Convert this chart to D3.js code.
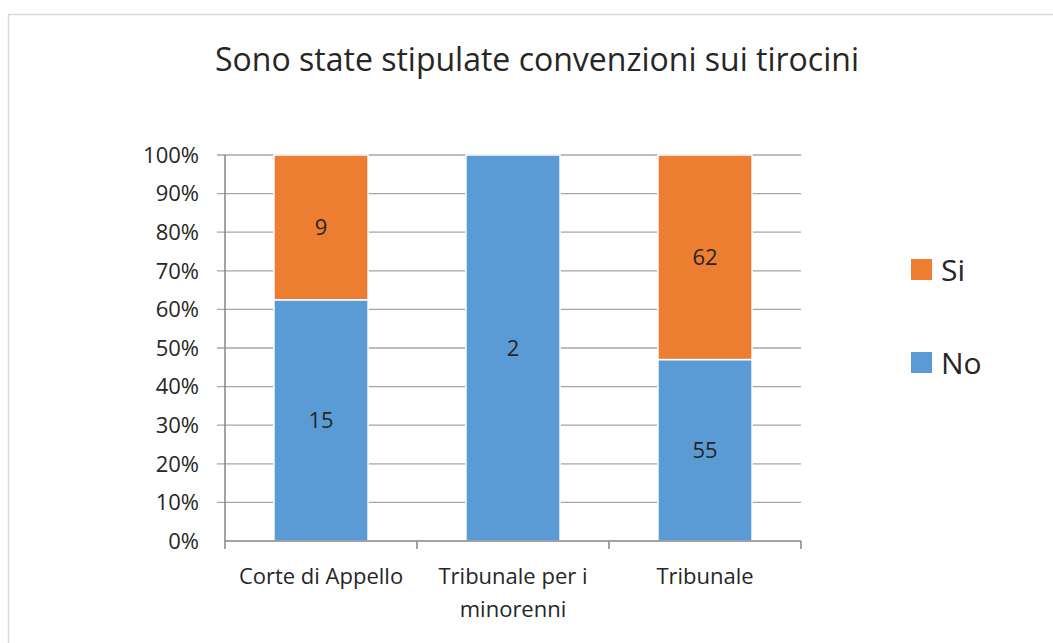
<!DOCTYPE html>
<html lang="it">
    <head>
       <meta charset="utf-8">
       <script src="https://d3js.org/d3.v7.min.js"></script>
       <style>
           body { margin: 0; background: #fff; }
           text { font-family: "Open Sans", "Noto Sans", sans-serif; fill: #262626; }
       </style>
    </head>
    <body>
        <script>
            var width  = 1053;
            var height = 643;

            // data
            var categories = ['Corte di Appello', 'Tribunale per i minorenni', 'Tribunale'];
            var categoryLines = [['Corte di Appello'], ['Tribunale per i', 'minorenni'], ['Tribunale']];
            var no_values = [15, 2, 55];
            var si_values = [9, 0, 62];
            var series = ['No', 'Si'];
            var colours = { 'No': '#5B9BD5', 'Si': '#ED7D31' };
            var y_ticks = [0, 0.1, 0.2, 0.3, 0.4, 0.5, 0.6, 0.7, 0.8, 0.9, 1];

            var plot_left = 225, plot_right = 801, plot_top = 155, plot_bottom = 541;
            var label_size = "22px";

            var svg = d3.select("body")
                        .append("svg")
                        .attr("width", width)
                        .attr("height", height);

            // outer chart border
            svg.append("rect")
               .attr("x", 8.5).attr("y", 14.5)
               .attr("width", width + 10).attr("height", height + 10)
               .attr("fill", "none")
               .attr("stroke", "#d9d9d9")
               .attr("stroke-width", 1.5);

            // title
            svg.append("text")
               .attr("x", 537).attr("y", 71)
               .attr("text-anchor", "middle")
               .style("font-size", "32px")
               .text("Sono state stipulate convenzioni sui tirocini");

            var x = d3.scaleBand()
                      .domain(categories)
                      .range([plot_left, plot_right])
                      .paddingInner(0.51)
                      .paddingOuter(0.255);

            var y = d3.scaleLinear()
                      .domain([0, 1])
                      .range([plot_bottom, plot_top]);

            // grid lines
            svg.append("g")
               .selectAll("line")
               .data(y_ticks.slice(1))
               .enter().append("line")
               .attr("x1", plot_left - 8).attr("x2", plot_right)
               .attr("y1", function(d) { return y(d); })
               .attr("y2", function(d) { return y(d); })
               .attr("stroke", "#a6a6a6")
               .attr("stroke-width", 1.3);

            // y tick labels
            svg.append("g")
               .selectAll("text")
               .data(y_ticks)
               .enter().append("text")
               .attr("x", plot_left - 26)
               .attr("y", function(d) { return y(d); })
               .attr("dy", "0.35em")
               .attr("text-anchor", "end")
               .style("font-size", label_size)
               .text(function(d) { return Math.round(d * 100) + "%"; });

            // stacked data as share of total
            var rows = categories.map(function(c, i) {
                var total = no_values[i] + si_values[i];
                return { cat: c, No: no_values[i] / total, Si: si_values[i] / total, NoN: no_values[i], SiN: si_values[i] };
            });
            var stacked = d3.stack().keys(series)(rows);

            var groups = svg.append("g")
                            .selectAll("g")
                            .data(stacked)
                            .enter().append("g")
                            .attr("fill", function(d) { return colours[d.key]; });

            groups.selectAll("rect")
                  .data(function(d) { return d.map(function(p) { p.key = d.key; return p; }); })
                  .enter().append("rect")
                  .filter(function(d) { return d[1] - d[0] > 0; })
                  .attr("x", function(d) { return x(d.data.cat); })
                  .attr("width", x.bandwidth())
                  .attr("y", function(d) { return y(d[1]); })
                  .attr("height", function(d) { return y(d[0]) - y(d[1]); })
                  .attr("stroke", "#fff")
                  .attr("stroke-width", 1.5);

            // data labels
            groups.selectAll("text")
                  .data(function(d) { return d.filter(function(p) { return p[1] - p[0] > 0; }); })
                  .enter().append("text")
                  .attr("x", function(d) { return x(d.data.cat) + x.bandwidth() / 2; })
                  .attr("y", function(d) { return y((d[0] + d[1]) / 2); })
                  .attr("dy", "0.35em")
                  .attr("text-anchor", "middle")
                  .style("font-size", label_size)
                  .text(function(d) { return d.key == 'No' ? d.data.NoN : d.data.SiN; });

            // x axis line and ticks
            svg.append("line")
               .attr("x1", plot_left).attr("x2", plot_right)
               .attr("y1", plot_bottom).attr("y2", plot_bottom)
               .attr("stroke", "#868686").attr("stroke-width", 1.5);
            svg.append("line")
               .attr("x1", plot_left).attr("x2", plot_left)
               .attr("y1", plot_top).attr("y2", plot_bottom + 8)
               .attr("stroke", "#868686").attr("stroke-width", 1.5);

            var step = (plot_right - plot_left) / categories.length;
            svg.append("g")
               .selectAll("line")
               .data(d3.range(1, categories.length + 1))
               .enter().append("line")
               .attr("x1", function(d) { return plot_left + d * step; })
               .attr("x2", function(d) { return plot_left + d * step; })
               .attr("y1", plot_bottom).attr("y2", plot_bottom + 8)
               .attr("stroke", "#868686").attr("stroke-width", 1.5);

            // category labels
            svg.append("g")
               .selectAll("text")
               .data(categories)
               .enter().append("text")
               .attr("x", function(d) { return x(d) + x.bandwidth() / 2; })
               .attr("y", 584)
               .attr("text-anchor", "middle")
               .style("font-size", label_size)
               .each(function(d, i) {
                   var t = d3.select(this);
                   categoryLines[i].forEach(function(line, j) {
                       t.append("tspan")
                        .attr("x", x(d) + x.bandwidth() / 2)
                        .attr("dy", j == 0 ? 0 : 33)
                        .text(line);
                   });
               });

            // legend
            var legend = svg.append("g")
                            .selectAll("g")
                            .data(['Si', 'No'])
                            .enter().append("g")
                            .attr("transform", function(d, i) { return "translate(911," + (259 + i * 93) + ")"; });
            legend.append("rect")
                  .attr("width", 21).attr("height", 21)
                  .attr("fill", function(d) { return colours[d]; });
            legend.append("text")
                  .attr("x", 30).attr("y", 11)
                  .attr("dy", "0.35em")
                  .style("font-size", "30px")
                  .text(function(d) { return d; });
        </script>
    </body>
</html>
